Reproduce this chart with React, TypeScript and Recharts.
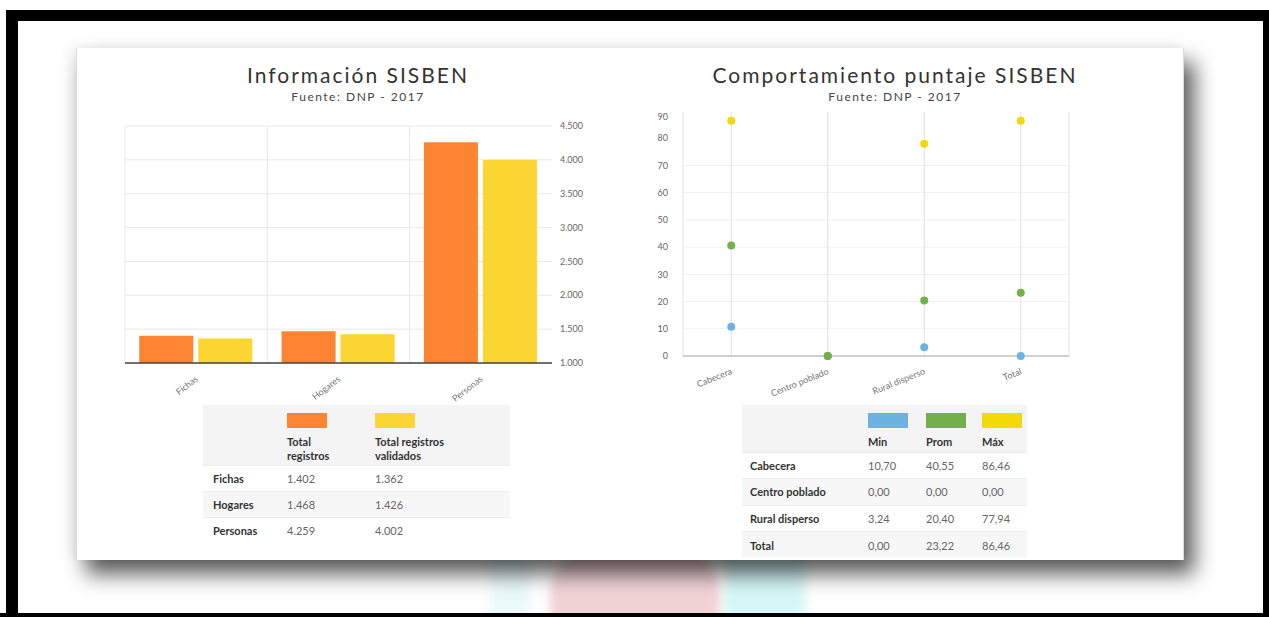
import React from "react";
import { BarChart, Bar, ComposedChart, Line, XAxis, YAxis, CartesianGrid } from "recharts";

// Información SISBEN
const barCategories = ["Fichas", "Hogares", "Personas"];
const totalRegistros = [1402, 1468, 4259];
const totalValidados = [1362, 1426, 4002];
const barTicks = [1000, 1500, 2000, 2500, 3000, 3500, 4000, 4500];

// Comportamiento puntaje SISBEN
const scoreCategories = ["Cabecera", "Centro poblado", "Rural disperso", "Total"];
const scoreMin = [10.7, 0, 3.24, 0];
const scoreProm = [40.55, 0, 20.4, 23.22];
const scoreMax = [86.46, 0, 77.94, 86.46];
const scoreTicks = [0, 10, 20, 30, 40, 50, 60, 70, 80, 90];

const ORANGE = "#fd8430";
const YELLOW = "#fbd531";
const BLUE = "#6db3e2";
const GREEN = "#72b04a";
const YELLOW_DOT = "#f3d90a";
const FONT = "Lato, 'Open Sans', sans-serif";

const barData = barCategories.map((name, i) => ({
  name,
  registros: totalRegistros[i],
  validados: totalValidados[i],
}));

const scoreData = scoreCategories.map((name, i) => ({
  name,
  min: scoreMin[i],
  prom: scoreProm[i],
  max: scoreMax[i],
}));

const thousands = (v: number) => String(v).replace(/\B(?=(\d{3})+(?!\d))/g, ".");
const decimal = (v: number) => v.toFixed(2).replace(".", ",");

const RotTick = (angle: number) => (props: any) => {
  const { x, y, payload } = props;
  return (
    <g transform={`translate(${x},${y + 6})`}>
      <text transform={`rotate(${angle})`} textAnchor="end" fontSize={9} fill="#777" fontFamily={FONT} dy={4}>
        {payload.value}
      </text>
    </g>
  );
};

const Title = ({ x, title }: { x: number; title: string }) => (
  <div style={{ position: "absolute", left: x - 250, top: 62, width: 500, textAlign: "center", color: "#333" }}>
    <div style={{ fontSize: 21, letterSpacing: 2, lineHeight: "25px" }}>{title}</div>
    <div style={{ fontSize: 12, letterSpacing: 1.5, marginTop: 2, color: "#444" }}>Fuente: DNP - 2017</div>
  </div>
);

const Swatch = ({ color }: { color: string }) => (
  <div style={{ width: 40, height: 15, background: color, marginBottom: 7 }} />
);

const cell: React.CSSProperties = { padding: 0, verticalAlign: "middle" };

const BarTable = () => (
  <table style={{ position: "absolute", left: 203, top: 405, width: 307, borderCollapse: "collapse", fontSize: 11, color: "#666" }}>
    <tbody>
      <tr style={{ height: 60, background: "#f4f4f4" }}>
        <td style={{ ...cell, width: 84 }} />
        <td style={{ ...cell, width: 88, verticalAlign: "top", paddingTop: 8, fontWeight: 700, color: "#333", lineHeight: "14px" }}>
          <Swatch color={ORANGE} />Total<br />registros
        </td>
        <td style={{ ...cell, verticalAlign: "top", paddingTop: 8, fontWeight: 700, color: "#333", lineHeight: "14px" }}>
          <Swatch color={YELLOW} />Total registros<br />validados
        </td>
      </tr>
      {barCategories.map((c, i) => (
        <tr key={c} style={{ height: 26, background: i === 1 ? "#f7f7f7" : "#fff", borderTop: "1px solid #ececec" }}>
          <td style={{ ...cell, paddingLeft: 10, fontWeight: 700, color: "#333" }}>{c}</td>
          <td style={cell}>{thousands(totalRegistros[i])}</td>
          <td style={cell}>{thousands(totalValidados[i])}</td>
        </tr>
      ))}
    </tbody>
  </table>
);

const ScoreTable = () => (
  <table style={{ position: "absolute", left: 742, top: 405, width: 285, borderCollapse: "collapse", fontSize: 11, color: "#666" }}>
    <tbody>
      <tr style={{ height: 47, background: "#f4f4f4" }}>
        <td style={{ ...cell, width: 126 }} />
        {[
          ["Min", BLUE, 58],
          ["Prom", GREEN, 56],
          ["Máx", YELLOW_DOT, 45],
        ].map(([label, color, w]) => (
          <td key={label as string} style={{ ...cell, width: w as number, verticalAlign: "top", paddingTop: 8, fontWeight: 700, color: "#333" }}>
            <Swatch color={color as string} />
            {label}
          </td>
        ))}
      </tr>
      {scoreCategories.map((c, i) => (
        <tr key={c} style={{ height: 26.5, background: i % 2 === 1 ? "#f7f7f7" : "#fff", borderTop: "1px solid #ececec" }}>
          <td style={{ ...cell, paddingLeft: 8, fontWeight: 700, color: "#333" }}>{c}</td>
          <td style={cell}>{decimal(scoreMin[i])}</td>
          <td style={cell}>{decimal(scoreProm[i])}</td>
          <td style={cell}>{decimal(scoreMax[i])}</td>
        </tr>
      ))}
    </tbody>
  </table>
);

export default function App() {
  return (
    <div style={{ position: "fixed", left: 0, top: 0, width: 1269, height: 617, background: "#fff", overflow: "hidden", fontFamily: FONT }}>
      {/* background watermark */}
      <div style={{ position: "absolute", left: 550, top: 545, width: 170, height: 80, background: "rgba(210,110,120,0.3)", borderRadius: "50px 50px 0 0", filter: "blur(5px)" }} />
      <div style={{ position: "absolute", left: 725, top: 545, width: 80, height: 80, background: "rgba(120,225,230,0.3)", filter: "blur(5px)" }} />
      <div style={{ position: "absolute", left: 490, top: 545, width: 40, height: 75, background: "rgba(160,230,235,0.2)", filter: "blur(5px)" }} />

      {/* black frame */}
      <div style={{ position: "absolute", left: 6, top: 10, width: 1263, height: 11, background: "#000" }} />
      <div style={{ position: "absolute", left: 6, top: 10, width: 12, height: 607, background: "#000" }} />
      <div style={{ position: "absolute", left: 0, top: 613, width: 1269, height: 4, background: "#000" }} />
      <div style={{ position: "absolute", left: 1263, top: 10, width: 6, height: 607, background: "#000" }} />

      {/* card */}
      <div
        style={{
          position: "absolute",
          left: 76,
          top: 48,
          width: 1106,
          height: 512,
          background: "#fff",
          boxShadow: "10px 14px 20px rgba(0,0,0,0.65), -6px -2px 12px rgba(0,0,0,0.06)",
          borderLeft: "1px solid #ddd",
          borderRight: "1px solid #ddd",
        }}
      />

      <Title x={358} title="Información SISBEN" />
      <Title x={895} title="Comportamiento puntaje SISBEN" />

      <div style={{ position: "absolute", left: 110, top: 115 }}>
        <BarChart width={500} height={300} data={barData} margin={{ top: 11, right: 8, bottom: 12, left: 15 }} barCategoryGap="10%" barGap={5}>
          <CartesianGrid
            stroke="#e8e8e8"
            verticalCoordinatesGenerator={({ offset }: any) => [
              offset.left,
              offset.left + offset.width / 3,
              offset.left + (2 * offset.width) / 3,
            ]}
          />
          <XAxis dataKey="name" height={40} tickLine={false} axisLine={{ stroke: "#444", strokeWidth: 1.5 }} tick={RotTick(-38)} interval={0} />
          <YAxis
            orientation="right"
            width={50}
            domain={[1000, 4500]}
            ticks={barTicks}
            allowDataOverflow
            axisLine={false}
            tickLine={false}
            tickFormatter={thousands}
            tick={{ fontSize: 9, fill: "#666", fontFamily: FONT, textAnchor: "start" }}
          />
          <Bar dataKey="registros" fill={ORANGE} isAnimationActive={false} />
          <Bar dataKey="validados" fill={YELLOW} isAnimationActive={false} />
        </BarChart>
      </div>

      <div style={{ position: "absolute", left: 630, top: 112, height: 300, overflow: "hidden" }}>
        <ComposedChart width={459} height={294} data={scoreData} margin={{ top: -1, right: 20, bottom: 10, left: 0 }}>
          <CartesianGrid stroke="#f0f0f0" vertical={false} />
          <CartesianGrid stroke="#e2e2e2" horizontal={false} />
          <XAxis dataKey="name" scale="band" height={40} tickLine={false} axisLine={{ stroke: "#aaa" }} tick={RotTick(-22)} interval={0} />
          <YAxis
            width={53}
            domain={[0, 90]}
            ticks={scoreTicks}
            axisLine={false}
            tickLine={false}
            tickMargin={9}
            tick={{ fontSize: 9, fill: "#666", fontFamily: FONT }}
          />
          <Line dataKey="max" stroke="none" dot={{ r: 4, fill: YELLOW_DOT, stroke: YELLOW_DOT, strokeWidth: 0 }} activeDot={false} isAnimationActive={false} />
          <Line dataKey="min" stroke="none" dot={{ r: 4, fill: BLUE, stroke: BLUE, strokeWidth: 0 }} activeDot={false} isAnimationActive={false} />
          <Line dataKey="prom" stroke="none" dot={{ r: 4, fill: GREEN, stroke: GREEN, strokeWidth: 0 }} activeDot={false} isAnimationActive={false} />
        </ComposedChart>
      </div>

      <BarTable />
      <ScoreTable />
    </div>
  );
}
